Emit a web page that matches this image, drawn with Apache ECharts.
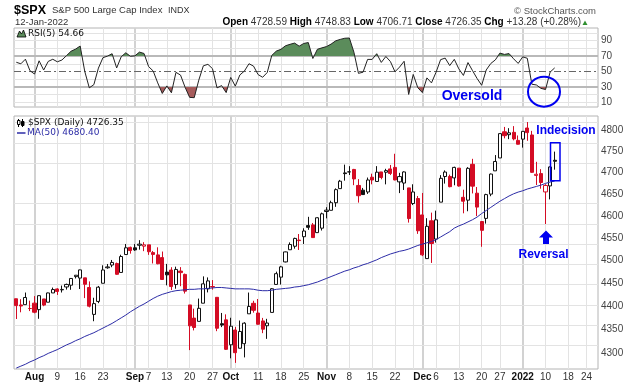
<!DOCTYPE html>
<html><head><meta charset="utf-8">
<script src="https://cdn.jsdelivr.net/npm/echarts@6/dist/echarts.min.js"></script>
<style>html,body{margin:0;padding:0;background:#fff}#c{width:638px;height:384px}</style>
</head><body><div id="c"></div>
<script>
// ---------- data ----------
const dates = ['2021-07-27','2021-07-28','2021-07-29','2021-07-30',
'2021-08-02','2021-08-03','2021-08-04','2021-08-05','2021-08-06','2021-08-09','2021-08-10','2021-08-11','2021-08-12','2021-08-13','2021-08-16','2021-08-17','2021-08-18','2021-08-19','2021-08-20','2021-08-23','2021-08-24','2021-08-25','2021-08-26','2021-08-27','2021-08-30','2021-08-31',
'2021-09-01','2021-09-02','2021-09-03','2021-09-07','2021-09-08','2021-09-09','2021-09-10','2021-09-13','2021-09-14','2021-09-15','2021-09-16','2021-09-17','2021-09-20','2021-09-21','2021-09-22','2021-09-23','2021-09-24','2021-09-27','2021-09-28','2021-09-29','2021-09-30',
'2021-10-01','2021-10-04','2021-10-05','2021-10-06','2021-10-07','2021-10-08','2021-10-11','2021-10-12','2021-10-13','2021-10-14','2021-10-15','2021-10-18','2021-10-19','2021-10-20','2021-10-21','2021-10-22','2021-10-25','2021-10-26','2021-10-27','2021-10-28','2021-10-29',
'2021-11-01','2021-11-02','2021-11-03','2021-11-04','2021-11-05','2021-11-08','2021-11-09','2021-11-10','2021-11-11','2021-11-12','2021-11-15','2021-11-16','2021-11-17','2021-11-18','2021-11-19','2021-11-22','2021-11-23','2021-11-24','2021-11-26','2021-11-29','2021-11-30',
'2021-12-01','2021-12-02','2021-12-03','2021-12-06','2021-12-07','2021-12-08','2021-12-09','2021-12-10','2021-12-13','2021-12-14','2021-12-15','2021-12-16','2021-12-17','2021-12-20','2021-12-21','2021-12-22','2021-12-23','2021-12-27','2021-12-28','2021-12-29','2021-12-30','2021-12-31',
'2022-01-03','2022-01-04','2022-01-05','2022-01-06','2022-01-07','2022-01-10','2022-01-11','2022-01-12'];
const futureDates = ['2022-01-13','2022-01-14','2022-01-18','2022-01-19','2022-01-20','2022-01-21','2022-01-24','2022-01-25','2022-01-26'];

const open = [4416.38,4402.95,4403.59,4395.12,
4406.86,4392.74,4415.95,4408.86,4429.07,4437.77,4435.79,4442.18,4446.08,4464.84,4461.65,4462.12,4440.94,4382.44,4410.56,4450.29,4484.40,4490.45,4493.75,4474.10,4513.76,4529.75,
4528.80,4534.48,4532.42,4535.38,4518.09,4513.02,4506.92,4474.81,4479.33,4447.49,4477.09,4469.74,4402.95,4374.45,4367.43,4406.75,4438.04,4442.12,4419.54,4362.41,4370.67,
4317.16,4348.84,4309.87,4319.57,4383.73,4406.51,4385.44,4368.31,4358.01,4386.75,4447.69,4463.72,4497.34,4524.42,4532.24,4546.12,4553.69,4578.69,4580.22,4562.84,4572.87,
4610.62,4613.34,4630.65,4662.93,4699.26,4701.48,4707.25,4670.26,4659.39,4655.24,4689.30,4679.42,4701.50,4700.72,4708.44,4712.00,4678.48,4675.78,4664.63,4628.75,4640.25,
4602.82,4504.73,4589.49,4548.37,4631.97,4690.86,4691.00,4687.64,4710.30,4642.99,4636.46,4719.13,4652.50,4587.90,4594.96,4650.36,4703.96,4733.99,4795.49,4788.64,4794.23,4775.21,
4778.14,4804.51,4787.99,4693.39,4697.66,4655.34,4669.14,4728.59];
const high = [4416.38,4415.47,4429.97,4412.25,
4422.18,4423.79,4416.17,4429.76,4440.82,4439.39,4445.21,4449.44,4461.77,4468.37,4480.26,4462.12,4454.32,4418.61,4444.35,4489.88,4492.81,4501.71,4495.90,4513.33,4537.36,4531.39,
4537.11,4545.85,4541.45,4535.38,4521.79,4529.90,4520.47,4492.99,4485.68,4486.87,4485.87,4471.52,4402.95,4394.87,4416.75,4465.40,4463.12,4457.30,4419.54,4385.57,4382.55,
4375.19,4355.51,4369.23,4365.57,4429.97,4412.02,4415.88,4374.89,4372.87,4439.73,4475.82,4488.75,4520.40,4540.87,4551.44,4559.67,4572.62,4598.53,4584.57,4597.55,4608.08,
4620.34,4635.15,4663.46,4683.00,4718.50,4714.92,4708.53,4684.85,4664.55,4688.47,4697.42,4714.95,4701.50,4708.80,4717.75,4743.83,4699.39,4702.87,4664.63,4672.95,4646.02,
4652.94,4595.46,4608.03,4612.60,4694.04,4705.06,4695.26,4713.57,4710.30,4660.47,4712.60,4731.99,4666.70,4587.90,4651.14,4697.67,4740.74,4791.49,4807.02,4804.06,4808.93,4786.83,
4796.64,4818.62,4797.70,4725.01,4707.95,4673.02,4714.13,4748.83];
const low = [4372.51,4387.01,4403.59,4389.65,
4384.81,4373.00,4400.23,4408.86,4429.07,4424.74,4430.03,4436.42,4435.96,4460.82,4437.66,4417.83,4397.59,4367.73,4406.80,4450.29,4482.28,4485.66,4468.99,4474.10,4513.76,4515.80,
4522.02,4524.66,4521.30,4513.00,4493.95,4492.07,4457.66,4445.70,4435.46,4438.37,4443.80,4427.76,4305.91,4347.96,4367.43,4406.75,4430.27,4436.19,4346.33,4355.08,4306.24,
4288.52,4278.94,4309.87,4290.49,4383.73,4386.22,4360.59,4342.09,4329.92,4386.75,4447.69,4447.47,4496.41,4524.40,4526.89,4524.00,4537.36,4569.17,4551.66,4562.84,4567.59,
4595.06,4613.34,4621.19,4662.59,4681.32,4694.39,4670.87,4630.86,4648.31,4650.77,4672.86,4679.42,4684.41,4672.78,4694.22,4682.17,4652.66,4659.89,4585.43,4625.26,4560.00,
4510.27,4504.73,4495.12,4540.51,4631.97,4674.52,4665.98,4670.64,4667.60,4606.52,4611.22,4651.89,4600.22,4531.10,4583.16,4645.53,4703.96,4733.99,4780.04,4778.08,4775.33,4765.75,
4758.17,4774.27,4699.44,4671.26,4662.74,4582.24,4638.27,4706.71];
const close = [4401.46,4400.64,4419.15,4395.26,
4387.16,4423.15,4402.66,4429.10,4436.52,4432.35,4436.75,4447.70,4460.83,4468.00,4479.71,4448.08,4400.27,4405.80,4441.67,4479.53,4486.23,4496.19,4470.00,4509.37,4528.79,4522.68,
4524.09,4536.95,4535.43,4520.03,4514.07,4493.28,4458.58,4468.73,4443.05,4480.70,4473.75,4432.99,4357.73,4354.19,4395.64,4448.98,4455.48,4443.11,4352.63,4359.46,4307.54,
4357.04,4300.46,4345.72,4363.55,4399.76,4391.34,4361.19,4350.65,4363.80,4438.26,4471.37,4486.46,4519.63,4536.19,4549.78,4544.90,4566.48,4574.79,4551.68,4596.42,4605.38,
4613.67,4630.65,4660.57,4680.06,4697.53,4701.70,4685.25,4646.71,4649.27,4682.85,4682.80,4700.90,4688.67,4704.54,4697.96,4682.94,4690.70,4701.46,4594.62,4655.27,4567.00,
4513.04,4577.10,4538.43,4591.67,4686.75,4701.21,4667.45,4712.02,4668.97,4634.09,4709.85,4668.67,4620.64,4568.02,4649.23,4696.56,4725.79,4791.19,4786.35,4793.06,4778.73,4766.18,
4796.56,4793.54,4700.58,4696.05,4677.03,4670.29,4713.07,4726.35];
const prevClose = 4422.30; // close before the first candle

const ma50 = [4268,4272,4276,4281,4285,4290,4294,4299,4303,4307,4312,4317,4321,4326,4330,4335,4339,4343,4348,4353,4358,4363,4369,4375,4381,4388,
4394,4400,4405,4411,4417,4422,4426,4429,4432,4434,4435,4436,4437,4437,4438,4438,4439,4440,4441,4441,4440,
4439,4438,4438,4438,4438,4437,4435,4434,4434,4435,4437,4438,4439,4440,4442,4443,4445,4447,4450,4453,4457,
4461,4465,4469,4473,4477,4480,4484,4487,4491,4494,4498,4502,4507,4511,4515,4518,4521,4523,4526,4530,4534,
4537,4540,4543,4547,4553,4559,4565,4573,4578,4582,4587,4592,4598,4606,4613,4620,4627,4634,4640,4646,4651,4655,
4658,4662,4665,4668,4671,4675,4678,4680.4];

const rsi5 = [62,60,66,51,
46.7,63.9,51.9,63.1,65.9,62.6,64.9,70.6,76.3,79.1,83.1,50.3,28.8,32.9,54.4,68.0,70.0,73.1,54.6,69.2,74.3,69.8,
70.3,75.2,73.4,56.4,50.7,35.2,21.5,31.3,22.4,48.9,45.3,29.5,16.4,16.0,38.8,57.4,59.3,53.7,28.7,31.7,22.6,
42.3,31.0,45.5,50.6,60.1,57.0,46.0,42.5,48.7,70.9,76.5,78.8,83.4,85.3,86.9,82.9,86.4,87.6,66.9,78.9,80.7,
82.4,85.6,89.8,91.7,93.2,93.5,75.1,47.6,49.1,65.7,65.7,73.1,61.8,69.5,62.9,49.7,55.7,63.3,20.2,46.2,29.0,
22.6,41.7,35.2,49.0,65.4,67.4,57.7,65.8,53.4,44.9,61.6,51.1,40.9,32.1,52.0,60.4,65.1,73.9,72.2,73.3,66.5,60.5,
69.0,67.2,33.5,32.5,28.1,26.6,49.2,54.66];

const priceTicks = [4300,4350,4400,4450,4500,4550,4600,4650,4700,4750,4800];
const rsiTicks = [10,30,50,70,90];
const rsiThinLevels = [10,20,40,60,80,90,100];
const rsiBandLevels = [30,70];
const rsiMidLevel = 50;

const labelDates = ['2021-08-02','2021-08-09','2021-08-16','2021-08-23','2021-09-01','2021-09-07','2021-09-13','2021-09-20','2021-09-27','2021-10-01','2021-10-11','2021-10-18','2021-10-25','2021-11-01','2021-11-08','2021-11-15','2021-11-22','2021-12-01','2021-12-06','2021-12-13','2021-12-20','2021-12-27','2022-01-03','2022-01-10','2022-01-18','2022-01-24'];
const labelTexts = ['Aug','9','16','23','Sep','7','13','20','27','Oct','11','18','25','Nov','8','15','22','Dec','6','13','20','27','2022','10','18','24'];
const monthDates = ['2021-08-02','2021-09-01','2021-10-01','2021-11-01','2021-12-01','2022-01-03'];
const extraGridDates = ['2021-08-30','2021-10-04','2021-11-29'];

// ---------- chart ----------
const FONT = '"Liberation Sans", Arial, sans-serif';
const LFONT = '"DejaVu Sans", Verdana, sans-serif';
const RED = '#d40c24', BLACK = '#111111', BLUE = '#0000f0', MA_COL = '#2c2ca6';
const GREEN = '#5b8c5b', MAROON = '#a65c5c';
const L = Math.log;

const allDates = dates.concat(futureDates);
const labelMap = new Map(labelDates.map((d, i) => [d, labelTexts[i]]));
const monthSet = new Set(monthDates);

const candleData = close.map((c, i) => {
  const o = open[i];
  const pc = i === 0 ? prevClose : close[i - 1];
  const col = c >= pc ? BLACK : RED;
  const fill = c > o ? '#ffffff' : col;
  return { value: [L(o), L(c), L(low[i]), L(high[i])],
    itemStyle: { color: fill, color0: fill, borderColor: col, borderColor0: col, borderColorDoji: col } };
});

const weekLine = { color: '#e3e3e3', width: 1, type: 'solid' };
const monthLine = { color: '#d2d2d2', width: 2, type: 'solid' };
const vLines = labelDates.concat(extraGridDates).map(d => ({ xAxis: d, lineStyle: monthSet.has(d) ? monthLine : weekLine }));

const rsiLines = vLines.concat(
  rsiThinLevels.map(v => ({ yAxis: v, lineStyle: { color: '#e3e3e3', width: 1, type: 'solid' } })),
  rsiBandLevels.map(v => ({ yAxis: v, lineStyle: { color: '#b9b9b9', width: 2, type: 'solid' } })),
  [{ yAxis: rsiMidLevel, lineStyle: { color: '#666', width: 1, type: [7, 3, 2, 3] } }]
);
const priceLines = vLines.concat(priceTicks.map(v => ({ yAxis: L(v), lineStyle: { color: '#e3e3e3', width: 1, type: 'solid' } })));

const mk = data => ({ silent: true, symbol: 'none', z: 1, animation: false, label: { show: false }, data: data });

const chart = echarts.init(document.getElementById('c'));
chart.setOption({
  animation: false,
  backgroundColor: '#ffffff',
  grid: [
    { left: 14, top: 28, width: 584, height: 79, show: true, borderColor: '#b4b4b4', borderWidth: 1 },
    { left: 14, top: 116, width: 584, height: 253, show: true, borderColor: '#b4b4b4', borderWidth: 1 }
  ],
  xAxis: [
    { type: 'category', gridIndex: 0, data: allDates, axisLine: { show: false }, axisTick: { show: false }, axisLabel: { show: false }, splitLine: { show: false } },
    { type: 'category', gridIndex: 1, data: allDates, axisLine: { show: false }, axisTick: { show: false }, splitLine: { show: false },
      axisLabel: {
        interval: (i, v) => labelMap.has(v), margin: 3,
        formatter: v => (monthSet.has(v) ? '{m|' : '{d|') + (labelMap.get(v) || '') + '}',
        rich: { m: { fontWeight: 'bold', fontSize: 10, color: '#111', fontFamily: FONT },
                d: { fontSize: 10, color: '#333', fontFamily: FONT } }
      } }
  ],
  yAxis: [
    { type: 'value', gridIndex: 0, position: 'right', min: 3.9, max: 106.5, axisLine: { show: false }, axisTick: { show: false }, splitLine: { show: false },
      axisLabel: { customValues: rsiTicks, fontSize: 10, color: '#444', margin: 3, fontFamily: FONT } },
    { type: 'value', gridIndex: 1, position: 'right', min: L(4266), max: L(4833), axisLine: { show: false }, axisTick: { show: false }, splitLine: { show: false },
      axisLabel: { customValues: priceTicks.map(L), formatter: v => String(Math.round(Math.exp(v))), fontSize: 10, color: '#444', margin: 3, fontFamily: FONT } }
  ],
  visualMap: [
    { type: 'piecewise', show: false, seriesIndex: 0, dimension: 1,
      pieces: [{ gte: -100, lte: 70, color: 'rgba(255,255,255,0)' }, { gt: 70, lte: 200, color: GREEN }] },
    { type: 'piecewise', show: false, seriesIndex: 1, dimension: 1,
      pieces: [{ gte: -100, lt: 30, color: MAROON }, { gte: 30, lte: 200, color: 'rgba(255,255,255,0)' }] }
  ],
  series: [
    { type: 'line', xAxisIndex: 0, yAxisIndex: 0, data: rsi5, symbol: 'none', silent: true, z: 2,
      lineStyle: { width: 0, opacity: 0 }, areaStyle: { origin: 'start', opacity: 1 } },
    { type: 'line', xAxisIndex: 0, yAxisIndex: 0, data: rsi5, symbol: 'none', silent: true, z: 2,
      lineStyle: { width: 0, opacity: 0 }, areaStyle: { origin: 'end', opacity: 1 } },
    { type: 'line', xAxisIndex: 0, yAxisIndex: 0, data: rsi5, symbol: 'none', silent: true, z: 3,
      lineStyle: { width: 1, color: '#222' }, itemStyle: { color: '#222' }, markLine: mk(rsiLines) },
    { type: 'candlestick', xAxisIndex: 1, yAxisIndex: 1, data: candleData, barWidth: 3.6, silent: true, z: 3 },
    { type: 'line', xAxisIndex: 1, yAxisIndex: 1, data: ma50.map(L), symbol: 'none', silent: true, z: 4,
      lineStyle: { width: 1, color: MA_COL }, itemStyle: { color: MA_COL }, markLine: mk(priceLines) }
  ],
  graphic: [
    { type: 'text', x: 14, y: 10.5, z: 100, style: { text: '$SPX', font: 'bold 12.5px ' + FONT, fill: '#000', verticalAlign: 'middle' } },
    { type: 'text', x: 52, y: 10.5, z: 100, style: { text: 'S&P 500 Large Cap Index', font: '9.5px ' + FONT, fill: '#333', verticalAlign: 'middle' } },
    { type: 'text', x: 168, y: 10.5, z: 100, style: { text: 'INDX', font: '9px ' + FONT, fill: '#333', verticalAlign: 'middle' } },
    { type: 'text', x: 15, y: 22.5, z: 100, style: { text: '12-Jan-2022', font: '9.5px ' + FONT, fill: '#333', verticalAlign: 'middle' } },
    { type: 'text', x: 581, y: 22.5, z: 100, style: {
        text: '{b|Open} 4728.59 {b|High} 4748.83 {b|Low} 4706.71 {b|Close} 4726.35 {b|Chg} +13.28 (+0.28%)',
        font: '10px ' + FONT, fill: '#333', align: 'right', verticalAlign: 'middle',
        rich: { b: { font: 'bold 10px ' + FONT, fill: '#000' } } } },
    { type: 'polygon', z: 100, shape: { points: [[582.5, 25], [587.5, 25], [585, 20.5]] }, style: { fill: '#2f8f2f' } },
    { type: 'text', x: 596, y: 11.5, z: 100, style: { text: '\u00A9 StockCharts.com', font: '9.5px ' + FONT, fill: '#555', align: 'right', verticalAlign: 'middle' } },
    // panel legends
    { type: 'polygon', z: 100, shape: { points: [[17, 37], [19.5, 31], [21.5, 34], [23.5, 30], [26, 37]] }, style: { fill: GREEN, stroke: '#000', lineWidth: 0.8 } },
    { type: 'text', x: 28, y: 33.3, z: 100, style: { text: 'RSI(5) 54.66', font: '9px ' + LFONT, fill: '#111', verticalAlign: 'middle' } },
    { type: 'line', z: 100, shape: { x1: 18.5, y1: 119, x2: 18.5, y2: 127 }, style: { stroke: '#000', lineWidth: 1 } },
    { type: 'rect', z: 100, shape: { x: 17.5, y: 120.5, width: 2.5, height: 4 }, style: { fill: '#fff', stroke: '#000', lineWidth: 1 } },
    { type: 'line', z: 100, shape: { x1: 22.5, y1: 119, x2: 22.5, y2: 127 }, style: { stroke: '#000', lineWidth: 1 } },
    { type: 'rect', z: 100, shape: { x: 21.5, y: 121.5, width: 2.5, height: 4 }, style: { fill: '#000', stroke: '#000', lineWidth: 1 } },
    { type: 'text', x: 28, y: 123, z: 100, style: { text: '$SPX (Daily) 4726.35', font: '9px ' + LFONT, fill: '#111', verticalAlign: 'middle' } },
    { type: 'line', z: 100, shape: { x1: 17, y1: 133, x2: 25.5, y2: 133 }, style: { stroke: MA_COL, lineWidth: 1.5 } },
    { type: 'text', x: 27, y: 133, z: 100, style: { text: 'MA(50) 4680.40', font: '9px ' + LFONT, fill: MA_COL, verticalAlign: 'middle' } },
    // annotations
    { type: 'text', x: 472, y: 96.5, z: 100, style: { text: 'Oversold', font: 'bold 14px ' + FONT, fill: BLUE, align: 'center', verticalAlign: 'middle' } },
    { type: 'ellipse', z: 100, shape: { cx: 544, cy: 91.7, rx: 16, ry: 15 }, style: { fill: 'none', stroke: BLUE, lineWidth: 2 } },
    { type: 'text', x: 566, y: 131, z: 100, style: { text: 'Indecision', font: 'bold 12px ' + FONT, fill: BLUE, align: 'center', verticalAlign: 'middle' } },
    { type: 'rect', z: 100, shape: { x: 550.5, y: 142.7, width: 9.5, height: 38 }, style: { fill: 'none', stroke: BLUE, lineWidth: 1.5 } },
    { type: 'polygon', z: 100, shape: { points: [[546, 230.5], [553, 237.5], [549, 237.5], [549, 244], [543, 244], [543, 237.5], [539, 237.5]] }, style: { fill: BLUE } },
    { type: 'text', x: 543.5, y: 255, z: 100, style: { text: 'Reversal', font: 'bold 12px ' + FONT, fill: BLUE, align: 'center', verticalAlign: 'middle' } }
  ]
});
</script>
</body></html>
